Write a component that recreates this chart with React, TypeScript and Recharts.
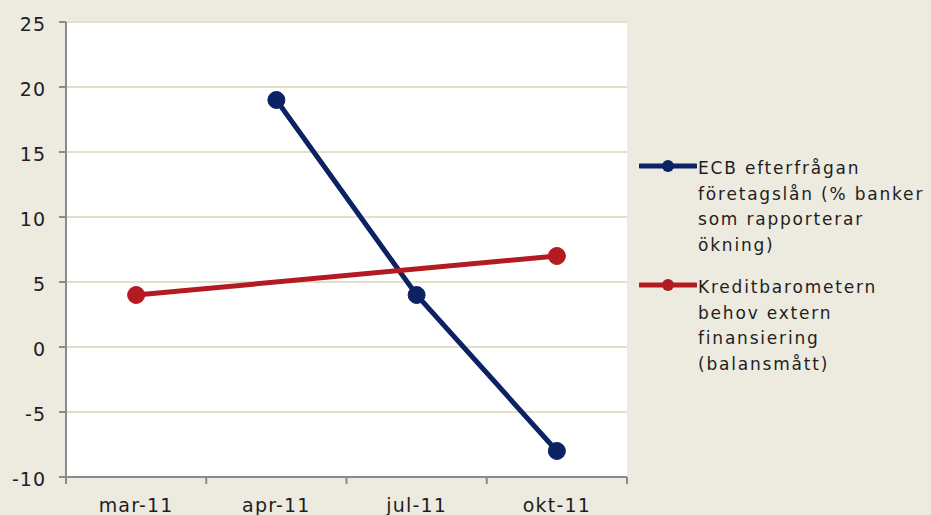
import React from "react";
import { LineChart, Line, XAxis, YAxis, CartesianGrid } from "recharts";

const categories = ["mar-11", "apr-11", "jul-11", "okt-11"];
const ecbDemand: (number | null)[] = [null, 19, 4, -8];
const creditBarometer: (number | null)[] = [4, null, null, 7];
const yTicks = [-10, -5, 0, 5, 10, 15, 20, 25];

const ecbLabel = ["ECB efterfrågan", "företagslån (% banker", "som rapporterar", "ökning)"];
const creditLabel = ["Kreditbarometern", "behov extern", "finansiering", "(balansmått)"];

const data = categories.map((c, i) => ({
  month: c,
  ecb: ecbDemand[i],
  credit: creditBarometer[i],
}));

const W = 931;
const H = 515;
const Y_AXIS_W = 66;
const X_AXIS_H = 38;
const M = { top: 22, right: 304, bottom: 0, left: 0 };
const PLOT_W = W - Y_AXIS_W - M.right;
const BAND = PLOT_W / categories.length;

const BLUE = "#0B2263";
const RED = "#B41A22";
const AXIS = "#8a8a8a";
const GRID = "#E3DFCB";
const BG = "#EDEAE0";
const TEXT = "#1e1e1e";
const FONT = "'DejaVu Sans', sans-serif";

const XTick = (props: any) => {
  const { x, y, payload, index } = props;
  const last = index === categories.length - 1;
  return (
    <g>
      <line x1={x - BAND / 2} x2={x - BAND / 2} y1={y - 8} y2={y - 1} stroke={AXIS} strokeWidth={2} />
      {last && (
        <line x1={x + BAND / 2} x2={x + BAND / 2} y1={y - 8} y2={y - 1} stroke={AXIS} strokeWidth={2} />
      )}
      <text
        x={x}
        y={y + 27}
        textAnchor="middle"
        fill={TEXT}
        fontSize={19}
        fontFamily={FONT}
        letterSpacing={1.2}
      >
        {payload.value}
      </text>
    </g>
  );
};

const LegendEntry = ({ color, lines, top }: { color: string; lines: string[]; top: number }) => (
  <div style={{ position: "absolute", left: 0, top, display: "flex" }}>
    <svg width={58} height={22} style={{ flex: "none", marginTop: -1, marginRight: 1 }}>
      <line x1={1} x2={57} y1={11} y2={11} stroke={color} strokeWidth={5} strokeLinecap="round" />
      <circle cx={29} cy={11} r={6} fill={color} />
    </svg>
    <div
      style={{
        fontFamily: FONT,
        fontSize: 17,
        letterSpacing: 1.8,
        lineHeight: "25.5px",
        color: TEXT,
        whiteSpace: "nowrap",
      }}
    >
      {lines.map((l) => (
        <div key={l}>{l}</div>
      ))}
    </div>
  </div>
);

export default function App() {
  return (
    <div style={{ position: "fixed", left: 0, top: 0, width: W, height: H, background: BG, overflow: "hidden" }}>
      <LineChart width={W} height={H} data={data} margin={M}>
        <CartesianGrid horizontal vertical={false} stroke={GRID} strokeWidth={2} fill="#ffffff" />
        <XAxis
          dataKey="month"
          scale="band"
          stroke={AXIS}
          strokeWidth={2}
          tickLine={false}
          tick={<XTick />}
          height={X_AXIS_H}
          interval={0}
        />
        <YAxis
          domain={[-10, 25]}
          ticks={yTicks}
          stroke={AXIS}
          strokeWidth={2}
          tickSize={7}
          tickMargin={13}
          tickLine={{ stroke: AXIS, strokeWidth: 2 }}
          tick={{ fill: TEXT, fontSize: 19, fontFamily: FONT, letterSpacing: 1, dy: 2 }}
          width={Y_AXIS_W}
          interval={0}
          allowDataOverflow
        />
        <Line
          dataKey="ecb"
          stroke={BLUE}
          strokeWidth={5}
          dot={{ r: 8.5, fill: BLUE, stroke: BLUE, strokeWidth: 1 }}
          isAnimationActive={false}
          connectNulls
        />
        <Line
          dataKey="credit"
          stroke={RED}
          strokeWidth={5}
          dot={{ r: 8.5, fill: RED, stroke: RED, strokeWidth: 1 }}
          isAnimationActive={false}
          connectNulls
        />
      </LineChart>
      <div style={{ position: "absolute", left: 639, top: 156, width: 292, height: 240 }}>
        <LegendEntry color={BLUE} lines={ecbLabel} top={0} />
        <LegendEntry color={RED} lines={creditLabel} top={119} />
      </div>
    </div>
  );
}
